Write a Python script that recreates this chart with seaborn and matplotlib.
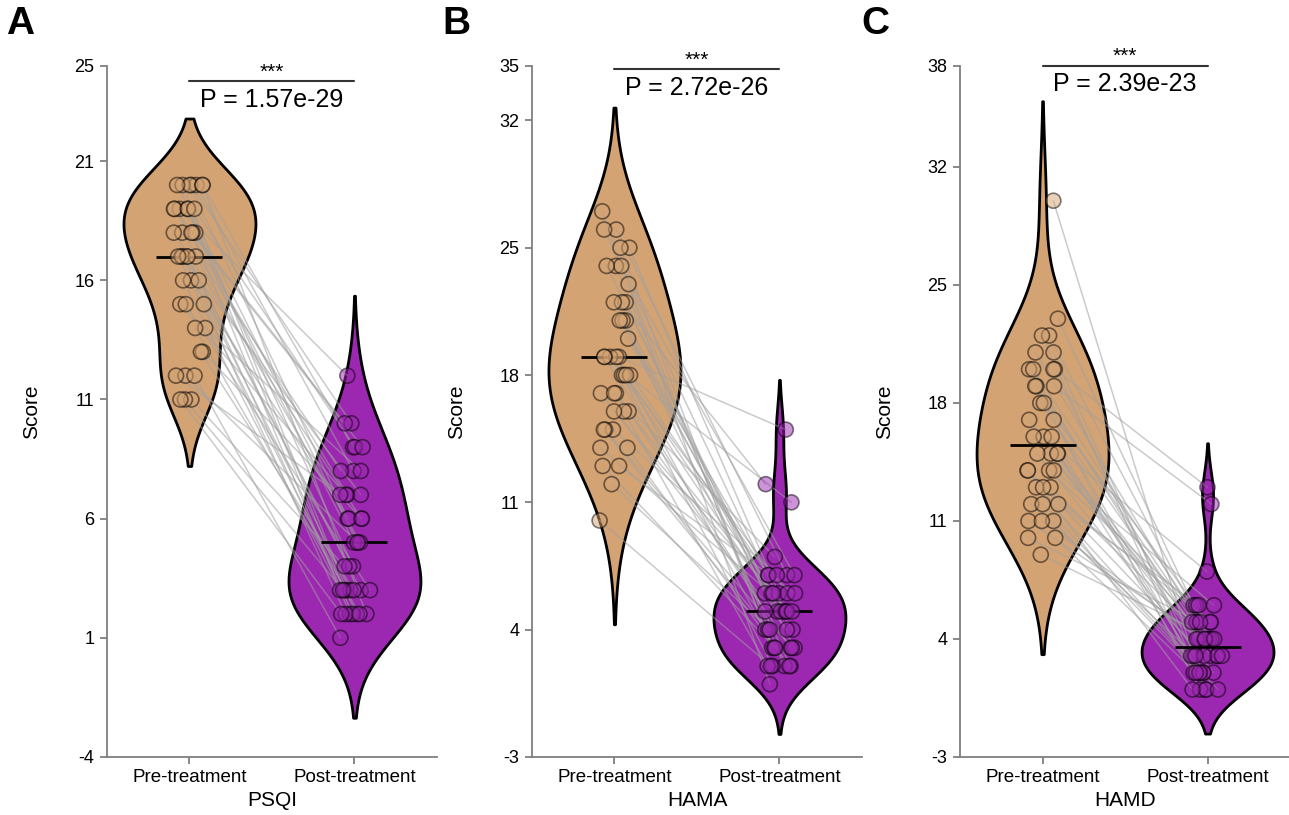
"""Paired pre/post treatment violin plots for PSQI, HAMA and HAMD scores."""
import matplotlib
matplotlib.use("Agg")
import matplotlib.pyplot as plt
import numpy as np
import pandas as pd
import seaborn as sns

PHASES = ["Pre-treatment", "Post-treatment"]
SCALES = ["PSQI", "HAMA", "HAMD"]
PANEL_LABELS = ["A", "B", "C"]
P_VALUES = ["1.57e-29", "2.72e-26", "2.39e-23"]

# one entry per subject, same order in pre and post lists
psqi_pre = [20, 20, 20, 20, 20, 20, 20, 19, 19, 19, 19, 19, 19, 18, 18, 18, 18, 18,
            17, 17, 17, 17, 17, 17, 16, 16, 16, 15, 15, 15, 14, 14, 13, 13,
            12, 12, 12, 11, 11, 11]
psqi_post = [10, 8, 3, 6, 9, 2, 5, 12, 7, 4, 10, 3, 9, 8, 5, 2, 6, 9,
             7, 3, 3, 5, 4, 2, 6, 2, 3, 7, 3, 2, 8, 2, 6, 3,
             5, 7, 1, 4, 3, 2]

hama_pre = [27, 26, 26, 25, 25, 24, 24, 24, 23, 22, 22, 22, 21, 21, 21, 20,
            19, 19, 19, 19, 19, 18, 18, 18, 18, 17, 17, 17, 16, 16, 16,
            15, 15, 15, 14, 14, 13, 13, 12, 10]
hama_post = [1, 7, 5, 6, 3, 2, 7, 5, 4, 6, 12, 3, 5, 2, 7, 6,
             15, 4, 3, 5, 11, 2, 6, 7, 5, 3, 4, 8, 5, 2, 6,
             7, 3, 4, 5, 2, 6, 3, 4, 2]

hamd_pre = [30, 23, 22, 22, 21, 21, 20, 20, 20, 20, 19, 19, 19, 18, 18, 17, 17,
            16, 16, 16, 15, 15, 15, 15, 14, 14, 14, 14, 13, 13, 13,
            12, 12, 12, 11, 11, 11, 10, 10, 9]
hamd_post = [3, 6, 4, 2, 5, 1, 13, 3, 4, 2, 12, 5, 1, 3, 6, 4, 2,
             8, 3, 5, 1, 4, 2, 3, 5, 6, 3, 1, 4, 2, 5,
             3, 6, 1, 2, 4, 3, 5, 2, 4]

Y_TICKS = [[-4, 1, 6, 11, 16, 21, 25],
           [-3, 4, 11, 18, 25, 32, 35],
           [-3, 4, 11, 18, 25, 32, 38]]

COLORS = ["#D4A373", "#9C27B0"]
BW_ADJUST = [(1.0, 1.25), (1.4, 1.0), (1.4, 1.05)]
BAR_Y = [24.35, 34.8, 38.0]
AX_LEFT = [0.083, 0.4127, 0.7448]
LETTER_X = [0.005, 0.343, 0.668]
SPINE = "#7f7f7f"

sns.set_style("ticks")
plt.rcParams["font.family"] = ["Liberation Sans", "DejaVu Sans"]
plt.rcParams.update({
    "text.color": "black",
    "axes.labelcolor": "black",
    "xtick.labelcolor": "black",
    "ytick.labelcolor": "black",
    "axes.unicode_minus": False,
})

fig = plt.figure(figsize=(12.89, 8.15), dpi=100)
np.random.seed(3)

panels = [(psqi_pre, psqi_post), (hama_pre, hama_post), (hamd_pre, hamd_post)]
for i, (pre, post) in enumerate(panels):
    ax = fig.add_axes([AX_LEFT[i], 0.0712, 0.256, 0.848])
    df = pd.DataFrame({"phase": np.repeat(PHASES, len(pre)), "score": pre + post})

    # each violin drawn on its own so that it gets its own bandwidth
    for phase, color, bw in zip(PHASES, COLORS, BW_ADJUST[i]):
        sns.violinplot(data=df[df["phase"] == phase], x="phase", y="score", order=PHASES,
                       color=color, saturation=1, inner=None, density_norm="width",
                       width=0.8, bw_adjust=bw, linewidth=2, linecolor="black", ax=ax)

    n_before = len(ax.collections)
    sns.stripplot(data=df, x="phase", y="score", order=PHASES, hue="phase",
                  hue_order=PHASES, palette=COLORS, jitter=0.1, size=10.8, alpha=0.5,
                  edgecolor="black", linewidth=1.2, legend=False, zorder=3, ax=ax)
    pre_xy = ax.collections[n_before].get_offsets()
    post_xy = ax.collections[n_before + 1].get_offsets()
    for (x0, y0), (x1, y1) in zip(pre_xy, post_xy):
        ax.plot([x0, x1], [y0, y1], color="#a0a0a0", alpha=0.55, lw=1.1, zorder=2)

    for pos, vals in enumerate((pre, post)):
        ax.hlines(np.median(vals), pos - 0.2, pos + 0.2, colors="black", lw=2, zorder=2.5)

    # significance bracket
    ax.plot([0, 1], [BAR_Y[i]] * 2, color="#333333", lw=1.5, clip_on=False, zorder=5)
    ax.annotate("***", (0.5, BAR_Y[i]), xytext=(0, 0), textcoords="offset points",
                ha="center", va="bottom", fontsize=15, annotation_clip=False)
    ax.annotate(f"P = {P_VALUES[i]}", (0.5, BAR_Y[i]), xytext=(0, -4.5),
                textcoords="offset points", ha="center", va="top", fontsize=18,
                annotation_clip=False)

    ax.set_xlim(-0.5, 1.5)
    ax.set_ylim(Y_TICKS[i][0], Y_TICKS[i][-1])
    ax.set_yticks(Y_TICKS[i])
    ax.set_xlabel(SCALES[i], fontsize=15, labelpad=3)
    ax.set_ylabel("Score", fontsize=15)
    ax.yaxis.set_label_coords(-0.2, 0.5)
    ax.tick_params(axis="x", labelsize=13.5)
    ax.tick_params(axis="y", labelsize=13)
    ax.tick_params(color=SPINE, width=1.3, length=5, pad=4)
    sns.despine(ax=ax)
    for side in ("left", "bottom"):
        ax.spines[side].set_color(SPINE)
        ax.spines[side].set_linewidth(1.3)

    fig.text(LETTER_X[i], 0.993, PANEL_LABELS[i], fontsize=28, fontweight="bold",
             va="top", ha="left")

fig.savefig("out.png", dpi=100)
plt.close(fig)
